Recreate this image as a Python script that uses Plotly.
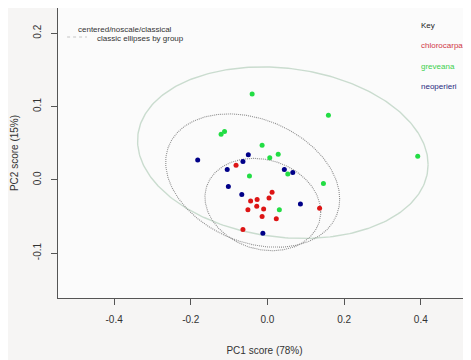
import numpy as np
import plotly.graph_objects as go

# ---- data (PC scores) ----
chl_x = [-0.082, 0.012, 0.004, -0.044, -0.027, -0.028, -0.051, -0.010, -0.014, 0.023, 0.136, -0.064]
chl_y = [0.020, -0.017, -0.025, -0.029, -0.027, -0.036, -0.041, -0.040, -0.050, -0.053, -0.039, -0.068]

gre_x = [-0.040, -0.121, -0.112, -0.014, 0.028, 0.006, 0.053, -0.047, 0.146, 0.031, 0.159, 0.392]
gre_y = [0.117, 0.062, 0.066, 0.047, 0.035, 0.030, 0.008, 0.005, -0.005, -0.041, 0.088, 0.032]

neo_x = [-0.182, -0.050, -0.064, -0.105, -0.102, -0.067, 0.044, 0.066, 0.086, -0.012]
neo_y = [0.027, 0.034, 0.025, 0.014, -0.009, -0.020, 0.014, 0.010, -0.033, -0.073]

groups = ["chlorocarpa", "greveana", "neoperieri"]
group_x = [chl_x, gre_x, neo_x]
group_y = [chl_y, gre_y, neo_y]
point_colors = ["#dd1515", "#22dd44", "#000088"]
key_colors = ["#d03848", "#3cd04c", "#2a2a80"]

# ellipse half-extents (x, y) and tilt coefficient per group
ell_rx = [0.151, 0.379, 0.227]
ell_ry = [0.063, 0.117, 0.091]
ell_k = [-0.16, -0.14, -0.275]
ell_color = ["#8c8c8c", "#cadccf", "#8c8c8c"]
ell_dash = ["1px,1px", "solid", "1px,1px"]

x_ticks = [-0.4, -0.2, 0.0, 0.2, 0.4]
x_labels = ["-0.4", "-0.2", "0.0", "0.2", "0.4"]
y_ticks = [-0.1, 0.0, 0.1, 0.2]
y_labels = ["-0.1", "0.0", "0.1", "0.2"]

fig = go.Figure()

t = np.linspace(0, 2 * np.pi, 300)
for i in [1, 2, 0]:
    cx = np.mean(group_x[i])
    cy = np.mean(group_y[i])
    k = ell_k[i]
    ex = cx + ell_rx[i] * np.cos(t)
    ey = cy + ell_ry[i] * (k * np.cos(t) + np.sqrt(1 - k * k) * np.sin(t))
    fig.add_trace(go.Scatter(x=ex, y=ey, mode="lines",
                             line=dict(color=ell_color[i], width=1.1 if ell_dash[i] != "solid" else 1.4,
                                       dash=ell_dash[i]),
                             hoverinfo="skip", showlegend=False))

for i, g in enumerate(groups):
    fig.add_trace(go.Scatter(x=group_x[i], y=group_y[i], mode="markers", name=g,
                             marker=dict(color=point_colors[i], size=5, line=dict(width=0)),
                             showlegend=False))

font_small = "Liberation Sans Narrow, Liberation Sans, Arial, sans-serif"
ann = [
    dict(text="centered/noscale/classical", x=0.0436, y=0.925, color="#333333"),
    dict(text="classic ellipses by group", x=0.0896, y=0.895, color="#333333"),
    dict(text="Key", x=0.874, y=0.941, color="#222222"),
]
for i, g in enumerate(groups):
    ann.append(dict(text=g, x=0.874, y=[0.869, 0.797, 0.731][i], color=key_colors[i]))
for a in ann:
    fig.add_annotation(text=a["text"], x=a["x"], y=a["y"], xref="paper", yref="paper",
                       xanchor="left", yanchor="middle", showarrow=False,
                       font=dict(family=font_small, size=8, color=a["color"]))

# tiny line sample in the upper-left key
fig.add_shape(type="line", xref="paper", yref="paper", x0=0.022, x1=0.070, y0=0.900, y1=0.900,
              line=dict(color="#c4c4c4", width=1, dash="dot"))

axis_font = dict(family="Liberation Sans, Arial, sans-serif", size=10, color="#333333")
fig.update_layout(
    width=463, height=352,
    margin=dict(l=50, r=0, t=0, b=62),
    paper_bgcolor="#f6f5f4",
    plot_bgcolor="#fbfbfb",
    showlegend=False,
    xaxis=dict(range=[-0.5465, 0.531], tickvals=x_ticks, ticktext=x_labels,
               showgrid=False, zeroline=False, showline=True, linecolor="#555555", linewidth=1,
               mirror=True, ticks="outside", ticklen=6, tickcolor="#555555",
               ticklabelstandoff=6, automargin=False,
               tickfont=axis_font,
               title=dict(text="PC1 score (78%)", font=axis_font, standoff=22)),
    yaxis=dict(range=[-0.1613, 0.2344], tickvals=y_ticks, ticktext=y_labels,
               showgrid=False, zeroline=False, showline=True, linecolor="#555555", linewidth=1,
               ticks="outside", ticklen=6, tickcolor="#555555", tickangle=-90,
               ticklabelstandoff=6, automargin=False,
               tickfont=axis_font,
               title=dict(text="PC2 score (15%)", font=axis_font, standoff=11)),
)

fig.write_html("out.html")
